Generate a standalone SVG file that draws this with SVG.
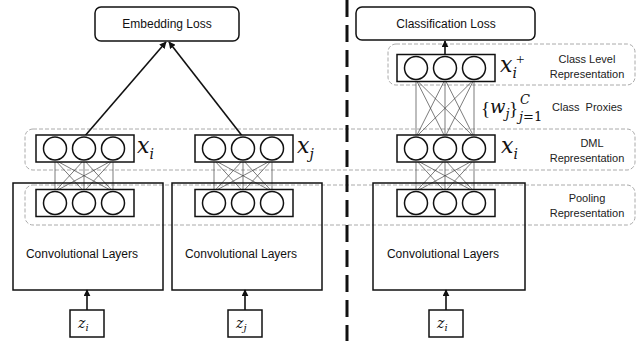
<svg xmlns="http://www.w3.org/2000/svg" width="637" height="341" viewBox="0 0 637 341">
<style>
.bg{fill:#fff}
.box{fill:none;stroke:#111;stroke-width:1.5}
.loss{fill:#fff;stroke:#111;stroke-width:1.5}
.neur{fill:#fff;stroke:#111;stroke-width:1.5}
.grp{fill:none;stroke:#aaa;stroke-width:1;stroke-dasharray:4 2}
.conn{stroke:#444;stroke-width:0.7;fill:none}
.arr{stroke:#111;stroke-width:1.6;fill:none}
.t{font-family:"Liberation Sans",Arial,sans-serif;font-size:12px;fill:#111}
.s{font-family:"Liberation Sans",Arial,sans-serif;font-size:11px;fill:#222}
.m{font-family:"DejaVu Serif","Liberation Serif",serif;font-style:italic;fill:#111}
.n{font-family:"DejaVu Serif","Liberation Serif",serif;font-style:normal}
.b{font-family:"Liberation Serif",serif;font-style:normal}
.sep{stroke:#111;stroke-width:3;stroke-dasharray:17 8}
</style>
<defs>
<marker id="ah" viewBox="0 0 10 10" refX="9" refY="5" markerWidth="7" markerHeight="7" markerUnits="userSpaceOnUse" orient="auto">
<path d="M0,0 L10,5 L0,10 z" fill="#111"/>
</marker>
<g id="layer">
<rect x="0" y="0" width="98" height="27" class="neur"/>
<circle cx="19" cy="13.5" r="11.5" class="neur"/>
<circle cx="48" cy="13.5" r="11.5" class="neur"/>
<circle cx="77" cy="13.5" r="11.5" class="neur"/>
</g>
</defs>
<rect width="637" height="341" class="bg"/>

<g id="groups">
<rect x="388" y="44" width="247" height="41" rx="8" class="grp"/>
<rect x="25" y="129" width="610" height="41" rx="8" class="grp"/>
<rect x="25" y="185" width="610" height="40" rx="8" class="grp"/>
</g>

<line id="separator" x1="347" y1="0" x2="347" y2="341" class="sep"/>

<g id="connectors">
<path class="conn" d="M55,160 L55,191.5 M55,160 L84,191.5 M55,160 L113,191.5 M84,160 L55,191.5 M84,160 L84,191.5 M84,160 L113,191.5 M113,160 L55,191.5 M113,160 L84,191.5 M113,160 L113,191.5"/>
<path class="conn" d="M214,160 L214,191.5 M214,160 L243,191.5 M214,160 L272,191.5 M243,160 L214,191.5 M243,160 L243,191.5 M243,160 L272,191.5 M272,160 L214,191.5 M272,160 L243,191.5 M272,160 L272,191.5"/>
<path class="conn" d="M416,160 L416,191.5 M416,160 L445,191.5 M416,160 L474,191.5 M445,160 L416,191.5 M445,160 L445,191.5 M445,160 L474,191.5 M474,160 L416,191.5 M474,160 L445,191.5 M474,160 L474,191.5"/>
<path class="conn" d="M416,79.5 L416,137 M416,79.5 L445,137 M416,79.5 L474,137 M445,79.5 L416,137 M445,79.5 L445,137 M445,79.5 L474,137 M474,79.5 L416,137 M474,79.5 L445,137 M474,79.5 L474,137"/>
<line x1="84" y1="137" x2="166" y2="42" class="arr" marker-end="url(#ah)"/>
<line x1="243" y1="137" x2="169" y2="42" class="arr" marker-end="url(#ah)"/>
<line x1="445" y1="55" x2="445" y2="41" class="arr" marker-end="url(#ah)"/>
<line x1="87" y1="310" x2="87" y2="290" class="arr" marker-end="url(#ah)"/>
<line x1="245" y1="310" x2="245" y2="290" class="arr" marker-end="url(#ah)"/>
<line x1="446" y1="310" x2="446" y2="290" class="arr" marker-end="url(#ah)"/>
</g>

<g id="embedding-loss">
<rect x="95" y="7" width="144" height="34" rx="6" class="loss"/>
<text x="167" y="28" class="t" text-anchor="middle">Embedding Loss</text>
</g>
<g id="classification-loss">
<rect x="356" y="7" width="179" height="33" rx="6" class="loss"/>
<text x="446" y="28" class="t" text-anchor="middle">Classification Loss</text>
</g>

<g id="conv-left">
<rect x="13" y="183" width="150" height="107" class="box"/>
<text x="82" y="258" class="t" text-anchor="middle">Convolutional Layers</text>
</g>
<g id="conv-mid">
<rect x="172" y="183" width="150" height="107" class="box"/>
<text x="241" y="258" class="t" text-anchor="middle">Convolutional Layers</text>
</g>
<g id="conv-right">
<rect x="373" y="183" width="152" height="107" class="box"/>
<text x="443" y="258" class="t" text-anchor="middle">Convolutional Layers</text>
</g>

<g id="pool-left"><use href="#layer" x="36" y="189.5"/></g>
<g id="pool-mid"><use href="#layer" x="195" y="189.5"/></g>
<g id="pool-right"><use href="#layer" x="397" y="189.5"/></g>

<g id="dml-left">
<use href="#layer" x="36" y="135"/>
<text x="137" y="153" class="m" font-size="22">x<tspan font-size="14" dy="6">i</tspan></text>
</g>
<g id="dml-mid">
<use href="#layer" x="195" y="135"/>
<text x="297" y="153" class="m" font-size="22">x<tspan font-size="14" dy="6">j</tspan></text>
</g>
<g id="dml-right">
<use href="#layer" x="397" y="135"/>
<text x="501" y="153" class="m" font-size="22">x<tspan font-size="14" dy="6">i</tspan></text>
</g>
<g id="class-level">
<use href="#layer" x="397" y="54.5"/>
<text x="500" y="72" class="m" font-size="22">x<tspan font-size="14" dy="6">i</tspan><tspan x="516" y="64" font-size="15" class="b">+</tspan></text>
</g>

<g id="proxies-label">
<text x="481" y="115" class="m" font-size="19"><tspan class="b">{</tspan><tspan x="490" y="113" font-size="18">w</tspan><tspan font-size="13" dy="5">j</tspan><tspan x="509" y="115" class="b">}</tspan><tspan x="520" y="104" font-size="13">C</tspan><tspan x="519" y="121" font-size="13">j</tspan><tspan class="n" font-size="13">=1</tspan></text>
<text x="552" y="111" class="s" xml:space="preserve">Class  Proxies</text>
</g>

<g id="labels">
<text x="587" y="63" class="s" text-anchor="middle">Class Level</text>
<text x="587" y="78" class="s" text-anchor="middle">Representation</text>
<text x="592" y="147" class="s" text-anchor="middle">DML</text>
<text x="587" y="162" class="s" text-anchor="middle">Representation</text>
<text x="587" y="202" class="s" text-anchor="middle">Pooling</text>
<text x="587" y="217" class="s" text-anchor="middle">Representation</text>
</g>

<g id="z-left">
<rect x="70" y="310" width="34" height="27" class="box"/>
<text x="78" y="328" class="m" font-size="14">z<tspan font-size="10" dy="3">i</tspan></text>
</g>
<g id="z-mid">
<rect x="228" y="310" width="34" height="27" class="box"/>
<text x="236" y="328" class="m" font-size="14">z<tspan font-size="10" dy="3">j</tspan></text>
</g>
<g id="z-right">
<rect x="429" y="310" width="34" height="27" class="box"/>
<text x="437" y="328" class="m" font-size="14">z<tspan font-size="10" dy="3">i</tspan></text>
</g>
</svg>
